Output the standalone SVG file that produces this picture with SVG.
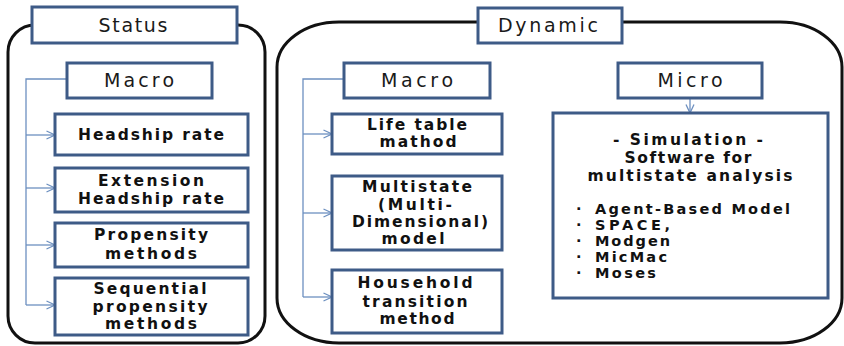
<svg xmlns="http://www.w3.org/2000/svg" width="844" height="346" viewBox="0 0 844 346">
<style>
.outer{fill:none;stroke:#111;stroke-width:3}
.box{fill:#fff;stroke:#3e5b87;stroke-width:3}
.t{font-family:"DejaVu Sans","Liberation Sans",sans-serif;font-size:19px;fill:#1a1a1a;text-anchor:middle}
.b{font-family:"DejaVu Sans","Liberation Sans",sans-serif;font-size:15.5px;font-weight:bold;fill:#111;text-anchor:middle}
.s{font-family:"DejaVu Sans","Liberation Sans",sans-serif;font-size:15.5px;font-weight:bold;fill:#111;text-anchor:middle}
.l{font-family:"DejaVu Sans","Liberation Sans",sans-serif;font-size:14.5px;font-weight:bold;fill:#111}
.con{fill:none;stroke:#6d90c0;stroke-width:1.3}
</style>
<defs>
<marker id="ah" viewBox="0 0 10 10" refX="9.5" refY="5" markerWidth="10" markerHeight="10" markerUnits="userSpaceOnUse" orient="auto">
<path d="M1,1 L9.5,5 L1,9" fill="none" stroke="#6d90c0" stroke-width="1.3"/>
</marker>
</defs>
<rect class="outer" x="8" y="25" width="257" height="318" rx="27" ry="27"/>
<rect class="outer" x="277" y="22" width="565" height="321" rx="62" ry="45"/>
<g id="connectors">
<path class="con" d="M67,79 H26 V305"/>
<path class="con" d="M26,135 H55" marker-end="url(#ah)"/>
<path class="con" d="M26,188 H55" marker-end="url(#ah)"/>
<path class="con" d="M26,245 H55" marker-end="url(#ah)"/>
<path class="con" d="M26,305 H55" marker-end="url(#ah)"/>
<path class="con" d="M344,79 H303 V297"/>
<path class="con" d="M303,134 H332" marker-end="url(#ah)"/>
<path class="con" d="M303,213 H332" marker-end="url(#ah)"/>
<path class="con" d="M303,297 H332" marker-end="url(#ah)"/>
<path class="con" d="M690,98 V113" marker-end="url(#ah)"/>
</g>
<g id="status-title"><rect class="box" x="32" y="7" width="205" height="36"/><text class="t" x="133" y="32" textLength="69" lengthAdjust="spacing">Status</text></g>
<g id="dynamic-title"><rect class="box" x="478" y="8" width="144" height="35"/><text class="t" x="548" y="32" textLength="100" lengthAdjust="spacing">Dynamic</text></g>
<g id="status-macro"><rect class="box" x="67" y="63" width="145" height="35"/><text class="t" x="139" y="87" textLength="70" lengthAdjust="spacing">Macro</text></g>
<g id="headship"><rect class="box" x="55" y="114" width="193" height="41"/><text class="b" x="151" y="140" textLength="146" lengthAdjust="spacing">Headship rate</text></g>
<g id="extension"><rect class="box" x="55" y="168" width="193" height="44"/><text class="b" x="151" y="186" textLength="106" lengthAdjust="spacing">Extension</text><text class="b" x="151" y="204" textLength="146" lengthAdjust="spacing">Headship rate</text></g>
<g id="propensity"><rect class="box" x="55" y="223" width="193" height="44"/><text class="b" x="151" y="240" textLength="114" lengthAdjust="spacing">Propensity</text><text class="b" x="151" y="259" textLength="92" lengthAdjust="spacing">methods</text></g>
<g id="sequential"><rect class="box" x="55" y="278" width="193" height="57"/><text class="b" x="150" y="294" textLength="113" lengthAdjust="spacing">Sequential</text><text class="b" x="150" y="312" textLength="115" lengthAdjust="spacing">propensity</text><text class="b" x="151" y="329" textLength="92" lengthAdjust="spacing">methods</text></g>
<g id="dynamic-macro"><rect class="box" x="344" y="63" width="146" height="35"/><text class="t" x="417" y="87" textLength="72" lengthAdjust="spacing">Macro</text></g>
<g id="life-table"><rect class="box" x="332" y="114" width="170" height="40"/><text class="b" x="417" y="130" textLength="100" lengthAdjust="spacing">Life table</text><text class="b" x="418" y="147" textLength="77" lengthAdjust="spacing">mathod</text></g>
<g id="multistate"><rect class="box" x="332" y="176" width="170" height="74"/><text class="b" x="417" y="192" textLength="110" lengthAdjust="spacing">Multistate</text><text class="b" x="415" y="210" textLength="74" lengthAdjust="spacing">(Multi-</text><text class="b" x="420" y="227" textLength="136" lengthAdjust="spacing">Dimensional)</text><text class="b" x="413" y="244" textLength="63" lengthAdjust="spacing">model</text></g>
<g id="household"><rect class="box" x="332" y="270" width="170" height="63"/><text class="b" x="415" y="288" textLength="115" lengthAdjust="spacing">Household</text><text class="b" x="415" y="307" textLength="105" lengthAdjust="spacing">transition</text><text class="b" x="417" y="324" textLength="75" lengthAdjust="spacing">method</text></g>
<g id="micro"><rect class="box" x="618" y="63" width="144" height="35"/><text class="t" x="690" y="87" textLength="65" lengthAdjust="spacing">Micro</text></g>
<g id="simulation"><rect class="box" x="553" y="113" width="275" height="185"/>
<text class="s" x="688" y="145" textLength="150" lengthAdjust="spacing">- Simulation -</text>
<text class="s" x="688" y="163" textLength="127" lengthAdjust="spacing">Software for</text>
<text class="s" x="690" y="181" textLength="205" lengthAdjust="spacing">multistate analysis</text>
<text class="l" y="214"><tspan x="576">·</tspan><tspan x="595" textLength="195" lengthAdjust="spacing">Agent-Based Model</tspan></text>
<text class="l" y="230"><tspan x="576">·</tspan><tspan x="595" textLength="75" lengthAdjust="spacing">SPACE,</tspan></text>
<text class="l" y="246"><tspan x="576">·</tspan><tspan x="595" textLength="75" lengthAdjust="spacing">Modgen</tspan></text>
<text class="l" y="262"><tspan x="576">·</tspan><tspan x="595" textLength="72" lengthAdjust="spacing">MicMac</tspan></text>
<text class="l" y="278"><tspan x="576">·</tspan><tspan x="595" textLength="61" lengthAdjust="spacing">Moses</tspan></text>
</g>
</svg>
